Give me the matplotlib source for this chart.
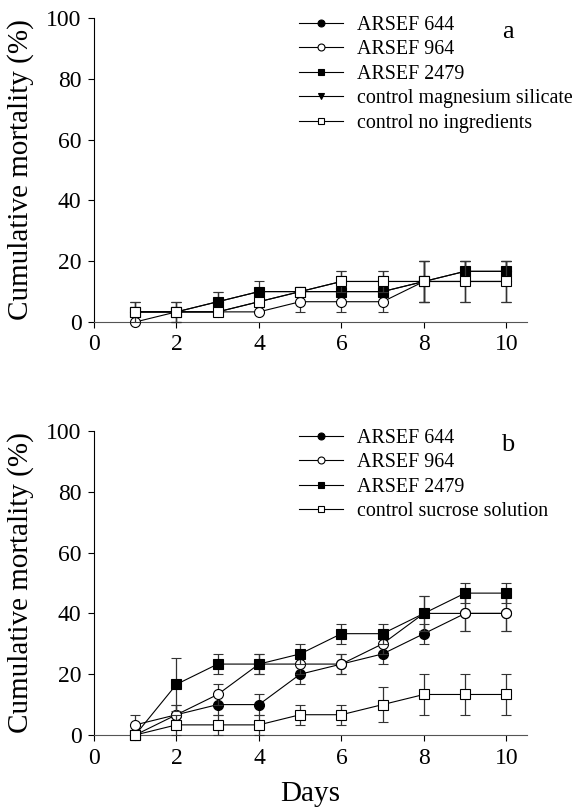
import matplotlib
matplotlib.use("Agg")
import matplotlib.pyplot as plt
from matplotlib.lines import Line2D
import numpy as np

plt.rcParams['font.family'] = ['Liberation Serif', 'DejaVu Serif']

days = [1, 2, 3, 4, 5, 6, 7, 8, 9, 10]

# Panel a
a_644 = [3.33, 3.33, 6.67, 10, 10, 10, 10, 13.33, 16.67, 16.67]
a_644_err = [3.33, 3.33, 3.33, 3.33, 0, 0, 0, 6.67, 3.33, 3.33]
a_964 = [0, 3.33, 3.33, 3.33, 6.67, 6.67, 6.67, 13.33, 13.33, 13.33]
a_964_err = [0, 0, 0, 0, 3.33, 3.33, 3.33, 6.67, 6.67, 6.67]
a_2479 = [3.33, 3.33, 6.67, 10, 10, 10, 10, 13.33, 16.67, 16.67]
a_2479_err = [0, 0, 3.33, 0, 0, 0, 0, 6.67, 3.33, 3.33]
a_mgsil = [3.33, 3.33, 3.33, 6.67, 10, 13.33, 13.33, 13.33, 13.33, 13.33]
a_mgsil_err = [3.33, 3.33, 0, 0, 0, 3.33, 3.33, 6.67, 6.67, 6.67]
a_noing = [3.33, 3.33, 3.33, 6.67, 10, 13.33, 13.33, 13.33, 13.33, 13.33]
a_noing_err = [3.33, 3.33, 0, 0, 0, 3.33, 3.33, 6.67, 6.67, 6.67]

# Panel b
b_644 = [0, 6.67, 10, 10, 20, 23.33, 26.67, 33.33, 40, 40]
b_644_err = [0, 3.33, 3.33, 3.33, 3.33, 3.33, 3.33, 3.33, 5.77, 5.77]
b_964 = [3.33, 6.67, 13.33, 23.33, 23.33, 23.33, 30, 40, 40, 40]
b_964_err = [3.33, 3.33, 3.33, 3.33, 3.33, 3.33, 3.33, 5.77, 5.77, 5.77]
b_2479 = [0, 16.67, 23.33, 23.33, 26.67, 33.33, 33.33, 40, 46.67, 46.67]
b_2479_err = [0, 8.82, 3.33, 3.33, 3.33, 3.33, 3.33, 5.77, 3.33, 3.33]
b_sucrose = [0, 3.33, 3.33, 3.33, 6.67, 6.67, 10, 13.33, 13.33, 13.33]
b_sucrose_err = [0, 3.33, 3.33, 3.33, 3.33, 3.33, 5.77, 6.67, 6.67, 6.67]

xticks = [0, 2, 4, 6, 8, 10]
yticks = [0, 20, 40, 60, 80, 100]

fig = plt.figure(figsize=(5.8, 8.11), dpi=100)
axa = fig.add_axes([94/580, (811-322)/811, (527-94)/580, 304/811])
axb = fig.add_axes([94/580, (811-735)/811, (527-94)/580, 304/811])

ms = 7.2
style = dict(color='black', lw=0.8, ms=ms, capsize=3.6, elinewidth=0.9,
             capthick=0.9, ecolor='#333333', mec='black', mew=0.8, clip_on=False)

def series(ax, y, err, marker, face, label, z):
    eb = ax.errorbar(days, y, yerr=err, marker=marker, mfc=face, zorder=z,
                     label=label, **style)
    for c in eb[1]:
        c.set_clip_on(False)
    for c in eb[2]:
        c.set_clip_on(False)
    return eb

series(axa, a_mgsil, a_mgsil_err, 'v', 'black', 'control magnesium silicate', 2)
series(axa, a_644, a_644_err, 'o', 'black', 'ARSEF 644', 3)
series(axa, a_964, a_964_err, 'o', 'white', 'ARSEF 964', 4)
series(axa, a_2479, a_2479_err, 's', 'black', 'ARSEF 2479', 5)
series(axa, a_noing, a_noing_err, 's', 'white', 'control no ingredients', 6)

series(axb, b_644, b_644_err, 'o', 'black', 'ARSEF 644', 3)
series(axb, b_964, b_964_err, 'o', 'white', 'ARSEF 964', 4)
series(axb, b_2479, b_2479_err, 's', 'black', 'ARSEF 2479', 5)
series(axb, b_sucrose, b_sucrose_err, 's', 'white', 'control sucrose solution', 6)

def legend(ax, labels, markers, faces):
    handles = [Line2D([0], [0], color='black', lw=0.8, marker=m, mfc=f,
                      mec='black', ms=5, mew=0.8) for m, f in zip(markers, faces)]
    ax.legend(handles, labels, loc='upper left', bbox_to_anchor=(0.474, 1.008),
              frameon=False, fontsize=14.4, handlelength=2.2, handletextpad=0.7,
              labelspacing=0.28, borderaxespad=0, borderpad=0)

legend(axa, ['ARSEF 644', 'ARSEF 964', 'ARSEF 2479', 'control magnesium silicate',
             'control no ingredients'],
       ['o', 'o', 's', 'v', 's'], ['black', 'white', 'black', 'black', 'white'])
legend(axb, ['ARSEF 644', 'ARSEF 964', 'ARSEF 2479', 'control sucrose solution'],
       ['o', 'o', 's', 's'], ['black', 'white', 'black', 'white'])

for ax, lab in ((axa, 'a'), (axb, 'b')):
    ax.set_xlim(0, 10.5)
    ax.set_ylim(0, 100)
    ax.set_xticks(xticks)
    ax.set_yticks(yticks)
    ax.spines['top'].set_visible(False)
    ax.spines['right'].set_visible(False)
    ax.spines['left'].set_linewidth(0.8)
    ax.spines['bottom'].set_linewidth(0.8)
    ax.spines['bottom'].set_color('#555555')
    ax.tick_params(direction='out', length=4, width=0.8, labelsize=17, pad=5)
    ax.set_ylabel('Cumulative mortality (%)', fontsize=21, labelpad=9)
    ax.text(0.955, 0.955, lab, transform=ax.transAxes, fontsize=19,
            ha='center', va='center')

axb.set_xlabel('Days', fontsize=21, labelpad=9)

fig.savefig('out.png', dpi=100)
